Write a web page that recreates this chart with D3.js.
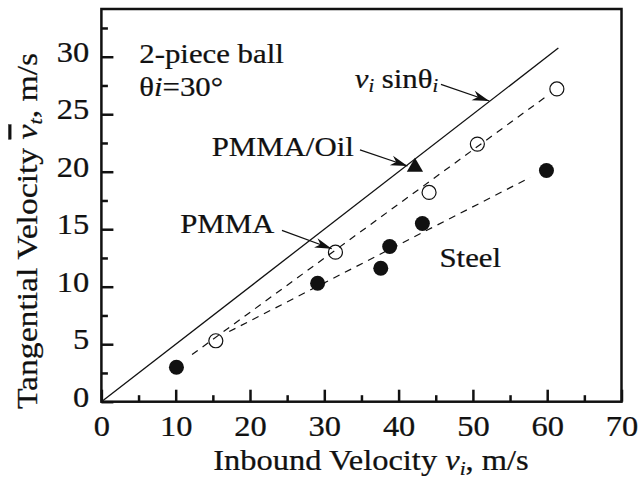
<!DOCTYPE html>
<html>
<head>
<meta charset="utf-8">
<script src="https://cdn.jsdelivr.net/npm/d3@7"></script>
<style>
    body { margin: 0; background: #fff; }
    text { font-family: "Liberation Serif", "Times New Roman", serif; fill: #111; stroke: #111; stroke-width: 0.25px; }
</style>
</head>
<body>
<svg id="chart" width="640" height="482"></svg>
<script>
// data (inbound velocity, tangential velocity)
var steelX = [10.1, 29.1, 37.6, 38.8, 43.2, 59.9];
var steelY = [3.0, 10.3, 11.6, 13.5, 15.5, 20.1];
var pmmaX = [15.4, 31.5, 44.1, 50.6, 61.3];
var pmmaY = [5.3, 13.0, 18.2, 22.4, 27.2];
var oilX = [42.2];
var oilY = [20.4];
// dashed fit lines and the vi*sin(30) line
var pmmaFitX = [12.2, 60.2];
var pmmaFitY = [4.1, 26.7];
var steelFitX = [17.2, 57.7];
var steelFitY = [6.1, 19.5];
var sinLineX = [0, 61.5];
var sinLineY = [0, 30.75];
// ticks
var xMajor = [0, 10, 20, 30, 40, 50, 60, 70];
var xMinor = [5, 15, 25, 35, 45, 55, 65];
var yMajor = [0, 5, 10, 15, 20, 25, 30];
var yMinor = [2.5, 7.5, 12.5, 17.5, 22.5, 27.5, 32.5];

var svg = d3.select("#chart");
// plot box in pixels (note: "top" is taken by window.top)
var plotLeft = 101.4, plotRight = 621.5, plotTop = 9, plotBottom = 401.7;
// the original type is a bit wider than Liberation Serif
var stretch = 1.1;

var xScale = d3.scaleLinear().domain([0, 70]).range([plotLeft, plotRight]);
var yScale = d3.scaleLinear().domain([0, 34.15]).range([plotBottom, plotTop]);

// minor ticks first (no labels), pointing inward
svg.append("g")
    .attr("transform", "translate(0," + plotBottom + ")")
    .call(d3.axisBottom(xScale).tickValues(xMinor).tickSizeInner(-6.5).tickSizeOuter(0).tickFormat(""));
svg.append("g")
    .attr("transform", "translate(" + plotLeft + ",0)")
    .call(d3.axisLeft(yScale).tickValues(yMinor).tickSizeInner(-6.5).tickSizeOuter(0).tickFormat(""));

// major ticks with labels
svg.append("g")
    .attr("transform", "translate(0," + plotBottom + ")")
    .call(d3.axisBottom(xScale).tickValues(xMajor).tickSizeInner(-12).tickSizeOuter(0).tickPadding(13).tickFormat(d3.format("d")));
var yAxisG = svg.append("g")
    .attr("transform", "translate(" + plotLeft + ",0)")
    .call(d3.axisLeft(yScale).tickValues(yMajor).tickSizeInner(-12).tickSizeOuter(0).tickPadding(11).tickFormat(d3.format("d")));
yAxisG.selectAll("text").attr("dy", "0.16em");

svg.selectAll(".domain").remove();
svg.selectAll(".tick line").attr("stroke", "#111").attr("stroke-width", 2.5);
svg.selectAll(".tick text")
    .style("font-family", "'Liberation Serif', serif")
    .style("font-size", "29.5px")
    .attr("fill", "#111")
    .attr("transform", "scale(" + stretch + ",1)");

// frame
svg.append("rect")
    .attr("x", plotLeft).attr("y", plotTop)
    .attr("width", plotRight - plotLeft).attr("height", plotBottom - plotTop)
    .attr("fill", "none").attr("stroke", "#111").attr("stroke-width", 2.5);

// lines
var line = d3.line()
    .x(function (d) { return xScale(d[0]); })
    .y(function (d) { return yScale(d[1]); });

svg.append("path")
    .datum(d3.zip(sinLineX, sinLineY))
    .attr("d", line).attr("fill", "none").attr("stroke", "#111").attr("stroke-width", 1.3);
svg.append("path")
    .datum(d3.zip(pmmaFitX, pmmaFitY))
    .attr("d", line).attr("fill", "none").attr("stroke", "#111").attr("stroke-width", 1.2)
    .attr("stroke-dasharray", "7,6");
svg.append("path")
    .datum(d3.zip(steelFitX, steelFitY))
    .attr("d", line).attr("fill", "none").attr("stroke", "#111").attr("stroke-width", 1.2)
    .attr("stroke-dasharray", "7,6");

// markers
svg.append("g").selectAll("circle")
    .data(d3.zip(steelX, steelY))
    .enter().append("circle")
    .attr("cx", function (d) { return xScale(d[0]); })
    .attr("cy", function (d) { return yScale(d[1]); })
    .attr("r", 7.5)
    .attr("fill", "#111");

svg.append("g").selectAll("circle")
    .data(d3.zip(pmmaX, pmmaY))
    .enter().append("circle")
    .attr("cx", function (d) { return xScale(d[0]); })
    .attr("cy", function (d) { return yScale(d[1]); })
    .attr("r", 7)
    .attr("fill", "none").attr("stroke", "#111").attr("stroke-width", 1.2);

svg.append("g").selectAll("path")
    .data(d3.zip(oilX, oilY))
    .enter().append("path")
    .attr("d", d3.symbol().type(d3.symbolTriangle).size(115))
    .attr("transform", function (d) { return "translate(" + xScale(d[0]) + "," + yScale(d[1]) + ")"; })
    .attr("fill", "#111");

// arrows with a notched head
function arrow(x0, y0, x1, y1) {
    var px0 = xScale(x0), py0 = yScale(y0), px1 = xScale(x1), py1 = yScale(y1);
    var ang = Math.atan2(py1 - py0, px1 - px0) * 180 / Math.PI;
    svg.append("line")
        .attr("x1", px0).attr("y1", py0).attr("x2", px1).attr("y2", py1)
        .attr("stroke", "#111").attr("stroke-width", 1.2);
    svg.append("path")
        .attr("d", "M0,0 L-17,-5 L-12,0 L-17,5 Z")
        .attr("transform", "translate(" + px1 + "," + py1 + ") rotate(" + ang + ")")
        .attr("fill", "#111");
}
arrow(45.7, 27.6, 52.2, 26.15);
arrow(34.8, 21.9, 41.2, 20.5);
arrow(24.3, 14.9, 31.0, 13.3);

// rich text helper: pieces of [text, italic, small, overline]
function richText(g, pieces, size) {
    var t = g.append("text").style("font-size", size + "px");
    var down = false;
    pieces.forEach(function (p) {
        var s = t.append("tspan").text(p[0]);
        if (p[1]) s.style("font-style", "italic");
        if (p[2]) {
            s.style("font-size", (size * 0.66) + "px");
            if (!down) { s.attr("dy", size * 0.16); down = true; }
        } else if (down) {
            s.attr("dy", -size * 0.16); down = false;
        }
        if (p[3]) s.style("text-decoration", "overline");
    });
    return t;
}

function label(pieces, x, y, size) {
    var g = svg.append("g")
        .attr("transform", "translate(" + xScale(x) + "," + yScale(y) + ") scale(" + stretch + ",1)");
    return richText(g, pieces, size);
}

label([["2-piece ball"]], 5.1, 29.45, 28);
label([["θ"], ["i", true], ["=30°"]], 5.1, 26.55, 28);
label([["v", true], ["i", true, true], [" sinθ"], ["i", true, true]], 34.1, 27.3, 28);
label([["PMMA/Oil"]], 14.85, 21.37, 28);
label([["PMMA"]], 10.6, 14.65, 28);
label([["Steel"]], 45.5, 11.7, 28);

// axis titles
var xt = richText(svg.append("g").attr("transform", "translate(371,470) scale(1.12,1)"),
    [["Inbound Velocity "], ["v", true], ["i", true, true], [", m/s"]], 29);
xt.attr("text-anchor", "middle");

var yt = richText(svg.append("g").attr("transform", "translate(37,231) rotate(-90) scale(1.16,1)"),
    [["Tangential Velocity "], ["v", true, false, true], ["t", true, true], [", m/s"]], 29);
yt.attr("text-anchor", "middle");
</script>
</body>
</html>
